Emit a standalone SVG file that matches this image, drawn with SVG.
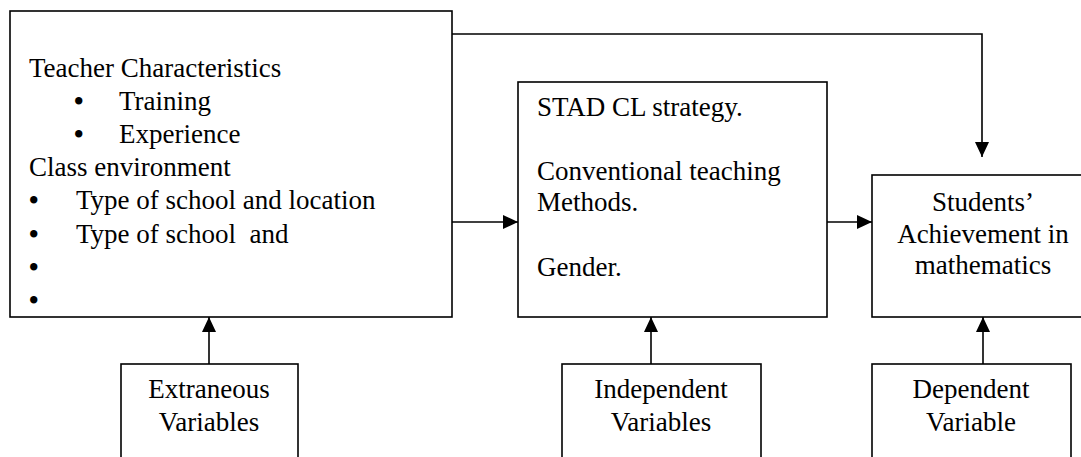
<svg xmlns="http://www.w3.org/2000/svg" width="1081" height="457" viewBox="0 0 1081 457">
<style>
.box{fill:#fff;stroke:#000;stroke-width:1.6}
.con{fill:none;stroke:#000;stroke-width:1.6}
.t{font-family:'Liberation Serif','Times New Roman',serif;font-size:27px;fill:#000}
.c{text-anchor:middle}
.b{font-weight:bold}
</style>
<defs>
<marker id="ah" markerUnits="userSpaceOnUse" markerWidth="16" markerHeight="14" refX="15" refY="7" orient="auto">
<path d="M0,0 L15,7 L0,14 Z" fill="#000"/>
</marker>
</defs>
<rect width="1081" height="457" fill="#fff"/>
<g id="teacher" class="t">
<rect class="box" x="10" y="11" width="442" height="306"/>
<text x="29" y="77">Teacher Characteristics</text>
<text class="b" x="74" y="110">•</text><text x="119" y="110">Training</text>
<text class="b" x="74" y="143">•</text><text x="119" y="143">Experience</text>
<text x="29" y="176">Class environment</text>
<text class="b" x="29" y="209">•</text><text x="76" y="209">Type of school and location</text>
<text class="b" x="29" y="243">•</text><text x="76" y="243" xml:space="preserve">Type of school  and</text>
<text class="b" x="29" y="276">•</text>
<text class="b" x="29" y="309">•</text>
</g>
<g id="strategy" class="t">
<rect class="box" x="518" y="82" width="309" height="235"/>
<text x="537" y="116">STAD CL strategy.</text>
<text x="537" y="180">Conventional teaching</text>
<text x="537" y="211">Methods.</text>
<text x="537" y="276">Gender.</text>
</g>
<g id="achievement" class="t">
<rect class="box" x="872" y="175" width="220" height="142"/>
<text class="c" x="983" y="211">Students’</text>
<text class="c" x="983" y="243">Achievement in</text>
<text class="c" x="983" y="274">mathematics</text>
</g>
<g id="extraneous" class="t">
<rect class="box" x="121" y="364" width="177" height="110"/>
<text class="c" x="209" y="398">Extraneous</text>
<text class="c" x="209" y="431">Variables</text>
</g>
<g id="independent" class="t">
<rect class="box" x="562" y="364" width="199" height="110"/>
<text class="c" x="661" y="398">Independent</text>
<text class="c" x="661" y="431">Variables</text>
</g>
<g id="dependent" class="t">
<rect class="box" x="872" y="364" width="199" height="110"/>
<text class="c" x="971" y="398">Dependent</text>
<text class="c" x="971" y="431">Variable</text>
</g>
<g id="connectors">
<path class="con" d="M452,34 H982 V157" marker-end="url(#ah)"/>
<path class="con" d="M452,222 H518" marker-end="url(#ah)"/>
<path class="con" d="M827,222 H872" marker-end="url(#ah)"/>
<path class="con" d="M209,364 V317" marker-end="url(#ah)"/>
<path class="con" d="M651,364 V317" marker-end="url(#ah)"/>
<path class="con" d="M983,364 V317" marker-end="url(#ah)"/>
</g>
</svg>
